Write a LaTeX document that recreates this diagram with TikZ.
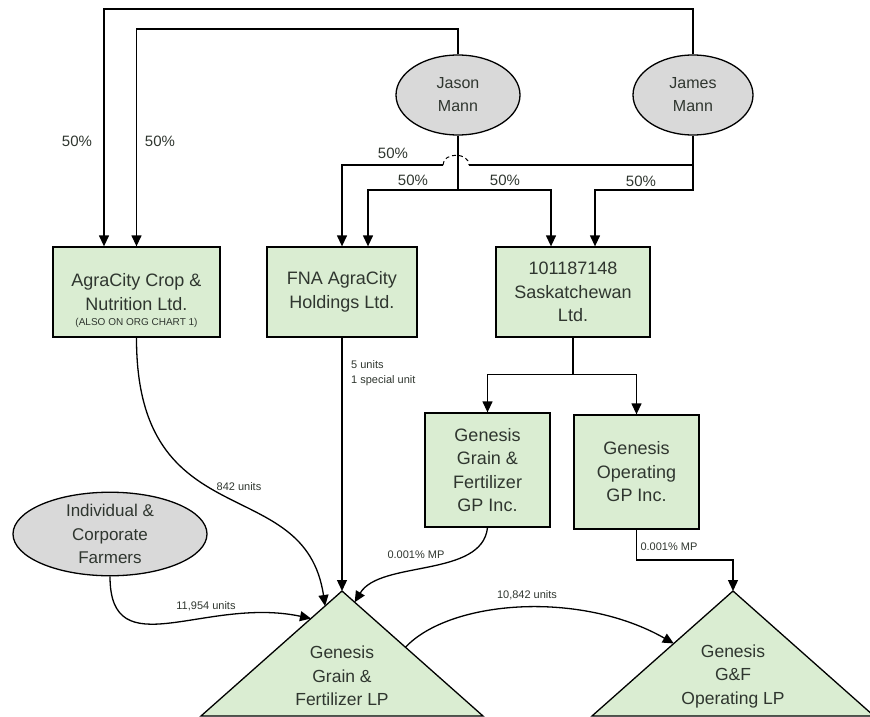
\documentclass[tikz,border=0pt]{standalone}
\usepackage{fontspec}
\setmainfont{Liberation Sans}
\usetikzlibrary{arrows.meta,shapes.geometric,calc}
\definecolor{boxgreen}{HTML}{DAEDD2}
\definecolor{pgrey}{HTML}{D9D9D9}
\definecolor{txt}{HTML}{2F362F}
\begin{document}
\begin{tikzpicture}[x=1pt,y=-1pt,
  conn/.style={draw=black,line width=1.3pt},
  arr/.style={conn,-{Triangle[length=11pt,width=10pt]}},
  entity/.style={draw=black,line width=1.3pt,fill=boxgreen,rectangle,inner sep=0pt,align=center,text=txt,font=\fontsize{18}{23.5}\selectfont},
  person/.style={draw=black,line width=1.3pt,fill=pgrey,ellipse,inner sep=0pt,align=center,text=txt,font=\fontsize{16}{23}\selectfont},
  bigtxt/.style={text=txt,align=center,inner sep=0pt,font=\fontsize{18}{23.5}\selectfont},
  pct/.style={text=txt,font=\fontsize{15}{17}\selectfont,inner sep=0pt},
  small/.style={text=txt,font=\fontsize{11}{16}\selectfont,inner sep=0pt},
  tri/.style={draw=black,line width=1.3pt,fill=boxgreen,line join=miter},
]
\useasboundingbox (0,0) rectangle (870,717);

% persons
\node[person,minimum width=124pt,minimum height=80pt] (jason) at (458,95) {Jason\\Mann};
\node[person,minimum width=120pt,minimum height=80pt] (james) at (693,95) {James\\Mann};
\node[person,minimum width=194pt,minimum height=76pt,font=\fontsize{17}{23.3}\selectfont] (farm) at (110,534) {Individual \&\\Corporate\\Farmers};

% entities
\node[entity,minimum width=167pt,minimum height=90pt] (agra) at (136.5,292) {};
\node[bigtxt] (agrat) at (136.5,292) {AgraCity Crop \&\\Nutrition Ltd.};
\node[text=txt,inner sep=0pt,font=\fontsize{10}{12}\selectfont] (agran) at (136.5,323) {(ALSO ON ORG CHART 1)};
\node[entity,minimum width=150pt,minimum height=90pt] (fna) at (342,292) {FNA AgraCity\\Holdings Ltd.};
\node[entity,minimum width=154pt,minimum height=90pt] (sask) at (573,292) {101187148\\Saskatchewan\\Ltd.};
\node[entity,minimum width=125pt,minimum height=114pt] (ggf) at (487.5,470) {Genesis\\Grain \&\\Fertilizer\\GP Inc.};
\node[entity,minimum width=125pt,minimum height=114pt] (gop) at (636.5,472) {Genesis\\Operating\\GP Inc.};

% triangles
\coordinate (lp1apex) at (342,591);
\coordinate (lp1bl) at (201,716);
\coordinate (lp1br) at (483,716);
\coordinate (lp2apex) at (733,591);
\coordinate (lp2bl) at (592,716);
\coordinate (lp2br) at (874,716);
\draw[tri] (lp1apex) -- (lp1br) -- (lp1bl) -- cycle;
\draw[tri] (lp2apex) -- (lp2br) -- (lp2bl) -- cycle;
\node[bigtxt,font=\fontsize{17.5}{23.5}\selectfont] (lp1) at (342,676) {Genesis\\Grain \&\\Fertilizer LP};
\node[bigtxt,font=\fontsize{17.5}{23.5}\selectfont] (lp2) at (733,676) {Genesis\\G\&F\\Operating LP};

% top ownership lines
\draw[arr] (james.north) |- (104,9) -- ([xshift=-32.5pt]agra.north);
\draw[arr] (jason.north) |- (136.5,29) -- (agra.north);
\draw[arr] (jason.south) -- (458,190) -| ([xshift=26pt]fna.north);
\draw[arr] (458,190) -| ([xshift=-22pt]sask.north);
\draw[arr] (james.south) -- (693,190) -| ([xshift=22pt]sask.north);
\draw[conn] (693,165) -- (469,165);
\draw[arr] (443,165) -| (fna.north);
\draw[line width=1pt,dash pattern=on 4pt off 3pt] (443,165) .. controls (443,152) and (469,152) .. (469,165);

\node[pct] (p1) at (77,141) {50\%};
\node[pct] (p2) at (160,141) {50\%};
\node[pct] (p3) at (393,153) {50\%};
\node[pct] (p4) at (413,180) {50\%};
\node[pct] (p5) at (505,180) {50\%};
\node[pct] (p6) at (641,181) {50\%};

% saskatchewan to GPs
\draw[arr] (sask.south) |- ([yshift=38pt]ggf.north) -- (ggf.north);
\draw[arr] (sask.south) |- ([yshift=40pt]gop.north) -- (gop.north);

% to LPs
\draw[arr] (fna.south) -- (lp1apex);
\node[small,anchor=west] (fnal1) at (351,365) {5 units};
\node[small,anchor=west] (fnal2) at (351,381) {1 special unit};

\draw[arr] (agra.south) .. controls (136,540) and (305,470) .. ($(lp1apex)!0.12!(lp1bl)$);
\node[small] (l842) at (239,487) {842 units};

\draw[arr] (farm.south) .. controls (110,668) and (205,596) .. ($(lp1apex)!0.22!(lp1bl)$);
\node[small] (l11954) at (206,606) {11,954 units};

\draw[arr] (ggf.south) .. controls (482,578) and (380,560) .. ($(lp1apex)!0.09!(lp1br)$);
\node[small] (lmp1) at (416,555) {0.001\% MP};

\draw[arr] (gop.south) |- (733,560) -- (lp2apex);
\node[small] (lmp2) at (669,547) {0.001\% MP};

\draw[arr] ($(lp1apex)!0.45!(lp1br)$) .. controls (450,600) and (580,590) .. ($(lp2apex)!0.42!(lp2bl)$);
\node[small] (l10842) at (527,595) {10,842 units};
\end{tikzpicture}
\end{document}
